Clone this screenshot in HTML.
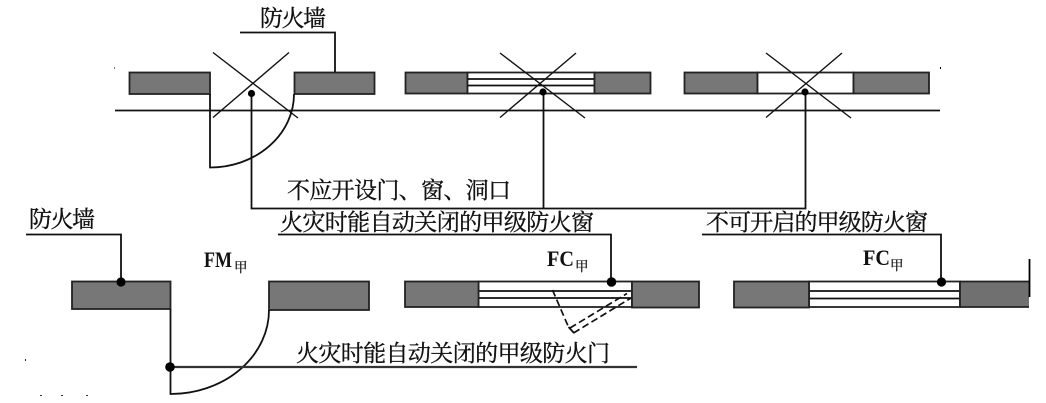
<!DOCTYPE html>
<html lang="zh">
<head>
<meta charset="utf-8">
<title>防火墙开口示意图</title>
<style>
html,body{margin:0;padding:0;background:#fff;width:1046px;height:403px;overflow:hidden}
svg{display:block}
.cjk{font-family:"Liberation Serif","Noto Serif CJK SC",serif;font-size:23px;fill:#111;stroke:#111;stroke-width:.35}
.sub{font-family:"Liberation Serif","Noto Serif CJK SC",serif;font-size:13.5px;fill:#222;stroke:#222;stroke-width:.3}
.fc{font-family:"Liberation Serif",serif;font-weight:bold;font-size:22px;fill:#111}
.w{fill:#777;stroke:#222;stroke-width:1.8}
.o{fill:#fff;stroke:#222;stroke-width:1.8}
.l{fill:none;stroke:#111;stroke-width:1.8}
.t{fill:none;stroke:#111;stroke-width:1.4}
.d{fill:none;stroke:#111;stroke-width:1.7;stroke-dasharray:7 3.5}
</style>
</head>
<body>
<svg width="1046" height="403" viewBox="0 0 1046 403" xmlns="http://www.w3.org/2000/svg">
<rect width="1046" height="403" fill="#fff"/>

<!-- top row -->
<rect class="w" x="129.5" y="72.5" width="80.5" height="21.5"/>
<rect class="w" x="294.5" y="72.5" width="80" height="21.5"/>
<path class="l" d="M240 32.5H335V72"/>
<path class="l" d="M210 94V167.5A84 73.5 0 0 0 294 94"/>

<rect class="w" x="405.5" y="72.5" width="62" height="21"/>
<rect class="o" x="467.5" y="72.5" width="127" height="21"/>
<path class="l" d="M467.5 79H594.5M467.5 85.5H594.5"/>
<rect class="w" x="594.5" y="72.5" width="56" height="21"/>

<rect class="w" x="684.5" y="72.5" width="73" height="21"/>
<rect class="o" x="757.5" y="72.5" width="96" height="21"/>
<rect class="w" x="853.5" y="72.5" width="75.5" height="21"/>

<path class="l" d="M115 110.5H940"/>

<path class="t" d="M213 52.5L298 118M213 117.5L289 52.5"/>
<path class="t" d="M500 53L585 118M500 117.5L576 53"/>
<path class="t" d="M766 53L851 118M766 117.5L842 53"/>

<path class="l" d="M251.5 93V208.5H805.5V92M543.5 92V208"/>
<circle cx="251.5" cy="93.5" r="3.6" fill="#000"/>
<circle cx="543" cy="92" r="3.6" fill="#000"/>
<circle cx="805" cy="92" r="3.6" fill="#000"/>

<text class="cjk" x="260" y="26" textLength="66" lengthAdjust="spacing">防火墙</text>
<text class="cjk" x="287" y="198" textLength="224" lengthAdjust="spacing">不应开设门、窗、洞口</text>
<text class="cjk" x="280" y="230" textLength="314" lengthAdjust="spacing">火灾时能自动关闭的甲级防火窗</text>
<text class="cjk" x="706" y="230" textLength="222" lengthAdjust="spacing">不可开启的甲级防火窗</text>
<text class="cjk" x="29" y="227" textLength="66" lengthAdjust="spacing">防火墙</text>
<text class="cjk" x="296" y="361" textLength="314" lengthAdjust="spacing">火灾时能自动关闭的甲级防火门</text>

<!-- bottom row -->
<path class="l" d="M26 234.5H121V282"/>
<path class="l" d="M278 234.5H611V282"/>
<path class="l" d="M702 234.5H941V282"/>

<rect class="w" x="72" y="281.5" width="98.5" height="27.5"/>
<rect class="w" x="269" y="281.5" width="100" height="28.5"/>
<path class="l" d="M170.5 309V394A98.5 84 0 0 0 269 310"/>
<path d="M170 367H637" fill="none" stroke="#333" stroke-width="2.2"/>

<rect class="o" x="478.5" y="281.5" width="153.5" height="25.5"/>
<path class="l" d="M478.5 291H632M478.5 298H632"/>
<rect class="w" x="405" y="281.5" width="73.5" height="25.5"/>
<rect class="w" x="632" y="281.5" width="67" height="26"/>
<path class="d" d="M552.5 290L568.5 327M570 328L627 293.5M573.5 333L631 298"/>
<path class="l" d="M568.5 327L574 333"/>

<rect class="o" x="809" y="281.5" width="151" height="25.5"/>
<path class="l" d="M809 291H960M809 298.5H960"/>
<rect class="w" x="734" y="281.5" width="75" height="26"/>
<rect x="960" y="281.5" width="69" height="26" fill="#707070"/>
<path d="M960 281.5H1029M960 307H1029M960 281.5V307" fill="none" stroke="#222" stroke-width="1.8"/>
<path d="M1029.5 259V297" stroke="#000" stroke-width="1.8"/>

<circle cx="121" cy="282" r="4.6" fill="#000"/>
<circle cx="170" cy="367" r="4.8" fill="#000"/>
<circle cx="611.5" cy="282" r="4.8" fill="#000"/>
<circle cx="941.5" cy="282" r="4.6" fill="#000"/>

<text class="fc" x="204" y="267" textLength="28" lengthAdjust="spacingAndGlyphs">FM</text>
<text class="sub" x="234" y="272">甲</text>
<text class="fc" x="547" y="266" textLength="27" lengthAdjust="spacingAndGlyphs">FC</text>
<text class="sub" x="575" y="271">甲</text>
<text class="fc" x="863" y="265" textLength="27" lengthAdjust="spacingAndGlyphs">FC</text>
<text class="sub" x="890" y="270">甲</text>

<!-- specks -->
<rect x="114" y="67" width="1" height="2" fill="#777"/>
<rect x="940" y="67" width="1" height="2" fill="#000"/>
<rect x="25" y="359" width="1" height="2" fill="#222"/>
<rect x="40" y="395" width="2" height="1" fill="#333"/>
<rect x="61" y="395" width="2" height="1" fill="#333"/>
<rect x="86" y="395" width="2" height="1" fill="#333"/>
</svg>
</body>
</html>
